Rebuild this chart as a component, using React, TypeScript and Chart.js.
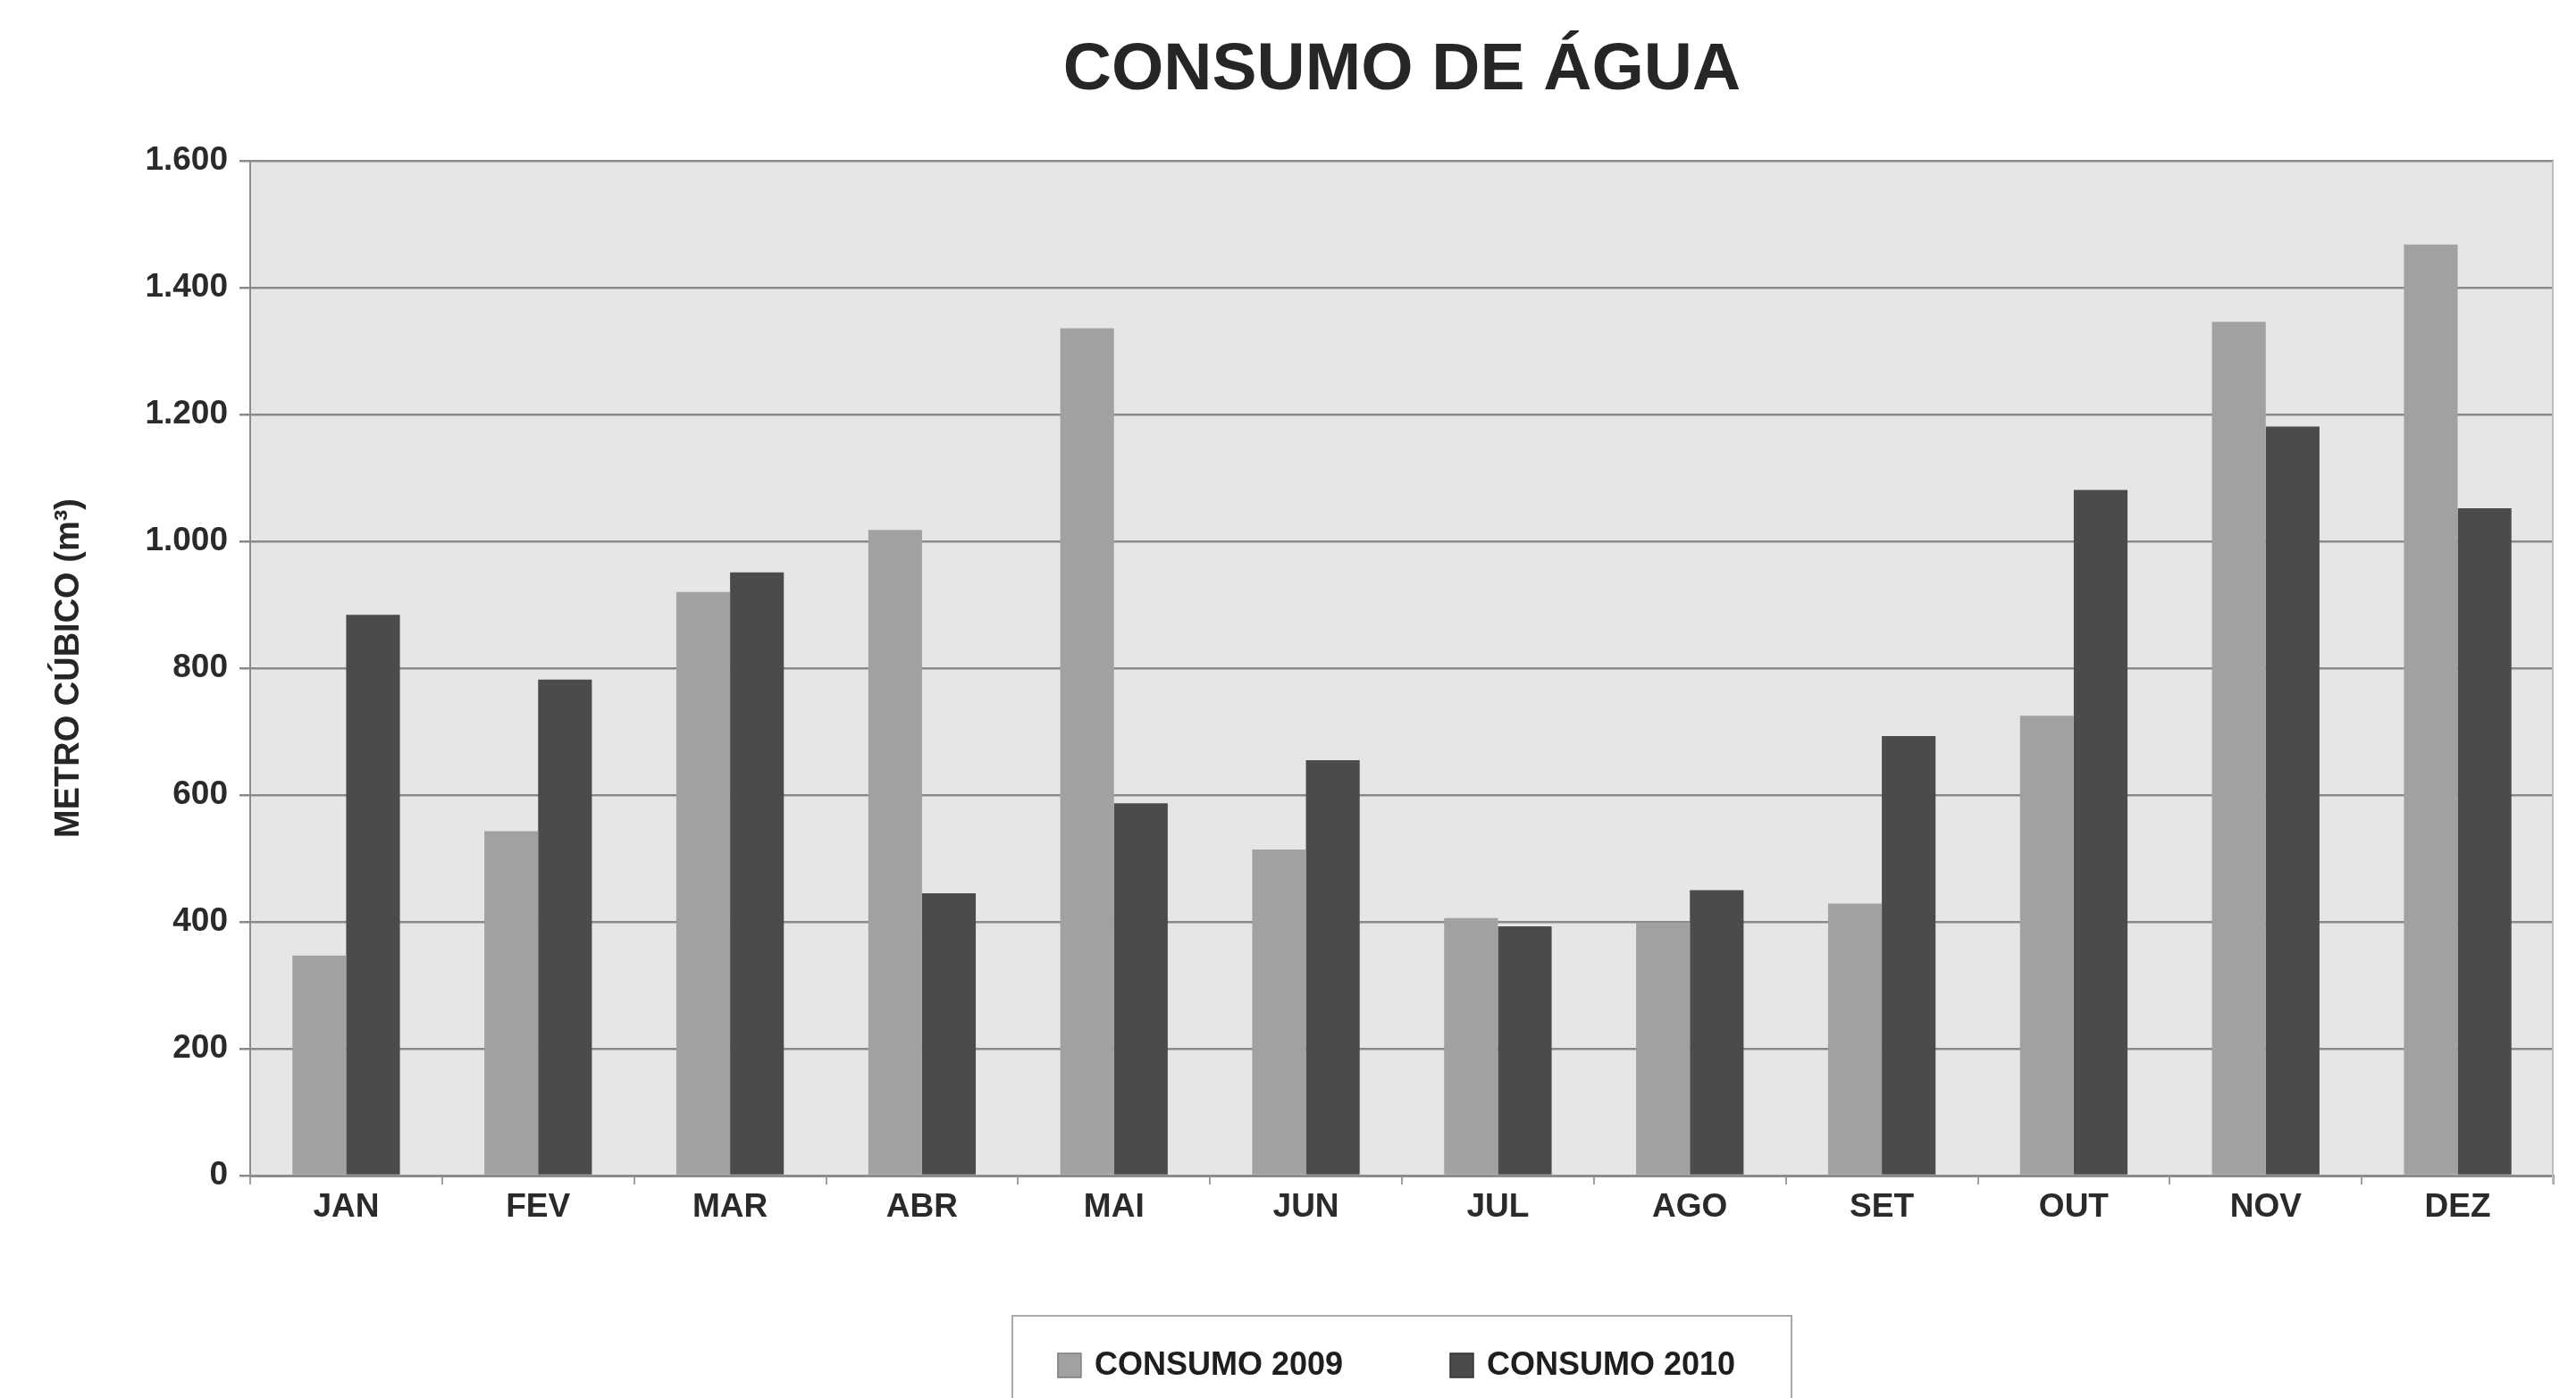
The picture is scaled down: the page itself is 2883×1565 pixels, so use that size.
import React, { useEffect, useRef } from 'react';
import { Chart, registerables } from 'chart.js';

Chart.register(...registerables);

// ---- Data ----
const MONTHS = ['JAN', 'FEV', 'MAR', 'ABR', 'MAI', 'JUN', 'JUL', 'AGO', 'SET', 'OUT', 'NOV', 'DEZ'];
const CONSUMO_2009 = [347, 543, 920, 1018, 1336, 514, 406, 399, 429, 725, 1346, 1468];
const CONSUMO_2010 = [884, 782, 951, 445, 587, 655, 393, 450, 693, 1081, 1181, 1052];
const SERIES_LABELS = ['CONSUMO 2009', 'CONSUMO 2010'];
const SERIES_COLORS = ['#a1a1a1', '#4b4b4b'];
const SERIES_EDGES = ['#7e7e7e', '#333333'];
const Y_MIN = 0;
const Y_MAX = 1600;
const Y_STEP = 200;
const TITLE = 'CONSUMO DE ÁGUA';
const Y_TITLE = 'METRO CÚBICO (m³)';

const FONT = "'Liberation Sans', Arial, Helvetica, sans-serif";

const formatThousands = (v: number) => {
  if (v >= 1000) {
    const th = Math.floor(v / 1000);
    const rest = String(v % 1000).padStart(3, '0');
    return `${th}.${rest}`;
  }
  return String(v);
};

const plotBackground = {
  id: 'plotBackground',
  beforeDraw(chart: any) {
    const { ctx, chartArea } = chart;
    ctx.save();
    ctx.fillStyle = '#ffffff';
    ctx.fillRect(0, 0, chart.width, chart.height);
    ctx.fillStyle = '#e6e6e6';
    ctx.fillRect(chartArea.left, chartArea.top, chartArea.right - chartArea.left, chartArea.bottom - chartArea.top);
    ctx.restore();
  },
  afterDraw(chart: any) {
    const { ctx, chartArea } = chart;
    ctx.save();
    // light right border of the plot
    ctx.strokeStyle = '#bdbdbd';
    ctx.lineWidth = 2;
    ctx.beginPath();
    ctx.moveTo(chartArea.right - 1, chartArea.top);
    ctx.lineTo(chartArea.right - 1, chartArea.bottom + 10);
    ctx.stroke();
    ctx.restore();
  },
};

const boxLegend = {
  id: 'boxLegend',
  afterDraw(chart: any) {
    const { ctx, chartArea } = chart;
    const cx = (chartArea.left + chartArea.right) / 2;
    const boxTop = chartArea.bottom + 157;
    const cy = chartArea.bottom + 212;
    ctx.save();
    ctx.font = `bold 36px ${FONT}`;
    const sw = 26;
    const gap = 15;
    const spacing = 120;
    const widths = SERIES_LABELS.map((t) => ctx.measureText(t).width);
    const total = widths.reduce((a, w) => a + sw + gap + w, 0) + spacing * (SERIES_LABELS.length - 1);
    // frame
    ctx.strokeStyle = '#a9a9a9';
    ctx.lineWidth = 2;
    const bw = 872;
    ctx.strokeRect(cx - bw / 2, boxTop, bw, 300);
    let x = cx - total / 2 - 6;
    ctx.textBaseline = 'middle';
    ctx.textAlign = 'left';
    SERIES_LABELS.forEach((label, i) => {
      ctx.fillStyle = SERIES_COLORS[i];
      ctx.fillRect(x, cy - 13, sw, 27);
      ctx.strokeStyle = SERIES_EDGES[i];
      ctx.lineWidth = 1.5;
      ctx.strokeRect(x, cy - 13, sw, 27);
      ctx.fillStyle = '#1e1e1e';
      ctx.fillText(label, x + sw + gap, cy + 1);
      x += sw + gap + widths[i] + spacing;
    });
    ctx.restore();
  },
};

export default function App() {
  const canvasRef = useRef<HTMLCanvasElement | null>(null);

  useEffect(() => {
    if (!canvasRef.current) return;
    const chart = new Chart(canvasRef.current, {
      type: 'bar',
      data: {
        labels: MONTHS,
        datasets: [
          {
            label: SERIES_LABELS[0],
            data: CONSUMO_2009,
            backgroundColor: SERIES_COLORS[0],
            borderWidth: 0,
            categoryPercentage: 0.56,
            barPercentage: 1.0,
          },
          {
            label: SERIES_LABELS[1],
            data: CONSUMO_2010,
            backgroundColor: SERIES_COLORS[1],
            borderWidth: 0,
            categoryPercentage: 0.56,
            barPercentage: 1.0,
          },
        ],
      },
      plugins: [plotBackground, boxLegend],
      options: {
        animation: false,
        responsive: true,
        maintainAspectRatio: false,
        events: [],
        layout: { padding: { top: 0, left: 0, right: 25, bottom: 189 } },
        plugins: {
          legend: { display: false },
          tooltip: { enabled: false },
          title: {
            display: true,
            text: TITLE,
            fullSize: false,
            color: '#262626',
            font: { family: FONT, size: 75, weight: 'bold' },
            padding: { top: 34, bottom: 56 },
          },
        },
        scales: {
          x: {
            afterFit: (scale: any) => {
              scale.height = 60;
            },
            grid: {
              display: true,
              drawOnChartArea: false,
              drawTicks: true,
              tickLength: 10,
              color: '#a0a0a0',
              lineWidth: 2,
              offset: true,
            },
            border: { display: true, color: '#8c8c8c', width: 3 },
            ticks: {
              color: '#2a2a2a',
              font: { family: FONT, size: 37, weight: 'bold' },
              padding: 4,
              maxRotation: 0,
              autoSkip: false,
            },
          },
          y: {
            min: Y_MIN,
            max: Y_MAX,
            afterFit: (scale: any) => {
              scale.width = 280;
            },
            grid: {
              color: '#8a8a8a',
              lineWidth: 2.5,
              drawTicks: true,
              tickLength: 12,
            },
            border: { display: true, color: '#8c8c8c', width: 2 },
            ticks: {
              stepSize: Y_STEP,
              color: '#2a2a2a',
              font: { family: FONT, size: 37, weight: 'bold' },
              padding: 13,
              callback: (v: any) => formatThousands(Number(v)),
            },
            title: {
              display: true,
              text: Y_TITLE,
              color: '#262626',
              font: { family: FONT, size: 38, weight: 'bold' },
              padding: { top: 55, bottom: 0 },
            },
          },
        },
      } as any,
    });
    return () => chart.destroy();
  }, []);

  return (
    <div style={{ position: 'fixed', left: 0, top: 0, width: 2883, height: 1565, background: '#ffffff' }}>
      <canvas ref={canvasRef} />
    </div>
  );
}
